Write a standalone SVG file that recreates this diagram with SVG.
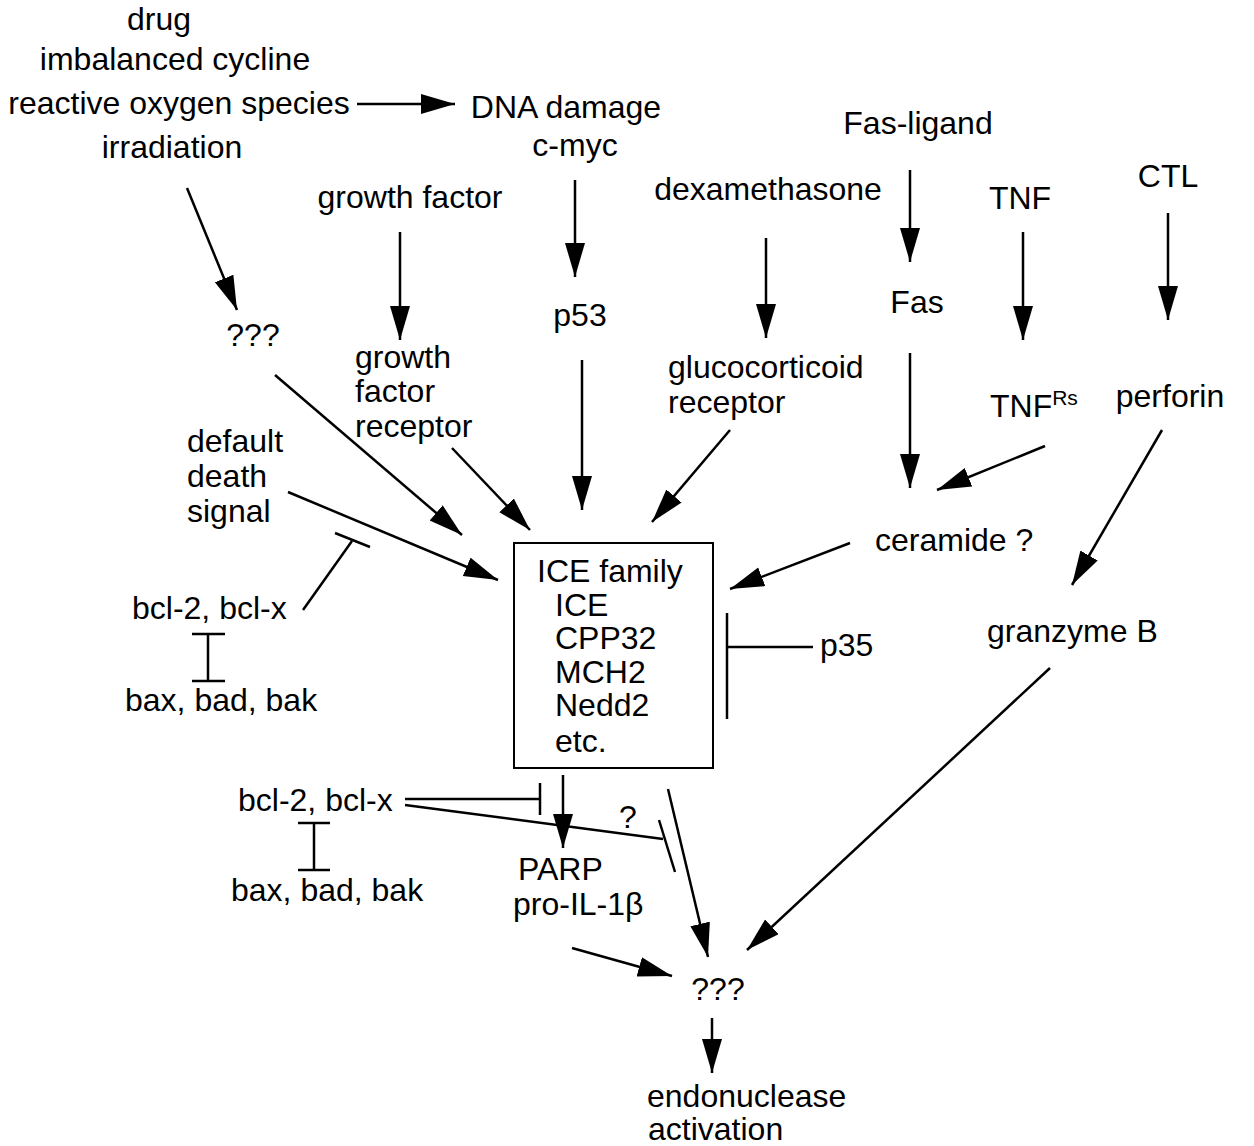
<svg xmlns="http://www.w3.org/2000/svg" width="1254" height="1146" viewBox="0 0 1254 1146">
<style>
text{font-family:"Liberation Sans",Arial,Helvetica,sans-serif;font-size:32px;fill:#000}
.c{text-anchor:middle}
.sup{font-size:21px}
.ln{stroke:#000;stroke-width:2.5;fill:none}
.ar{stroke:#000;stroke-width:2.5;fill:none;marker-end:url(#ah)}
.box{fill:none;stroke:#000;stroke-width:2}
</style>
<defs>
<marker id="ah" markerUnits="userSpaceOnUse" markerWidth="36" markerHeight="22" refX="34" refY="10" orient="auto">
<path d="M0,0 L34,10 L0,20 z" fill="#000"/>
</marker>
</defs>
<rect width="1254" height="1146" fill="#fff"/>
<g id="stimuli">
<text class="c" x="159" y="30">drug</text>
<text class="c" x="175" y="70">imbalanced cycline</text>
<text class="c" x="179" y="114">reactive oxygen species</text>
<text class="c" x="172" y="158">irradiation</text>
</g>
<g id="dna-damage"><text class="c" x="566" y="118">DNA damage</text><text class="c" x="575" y="156">c-myc</text></g>
<g id="fas-ligand"><text class="c" x="918" y="134">Fas-ligand</text></g>
<g id="growth-factor"><text class="c" x="410" y="208">growth factor</text></g>
<g id="dexamethasone"><text class="c" x="768" y="200">dexamethasone</text></g>
<g id="tnf"><text class="c" x="1020" y="209">TNF</text></g>
<g id="ctl"><text class="c" x="1168" y="187">CTL</text></g>
<g id="unknown1"><text class="c" x="253" y="346">???</text></g>
<g id="p53"><text class="c" x="580" y="326">p53</text></g>
<g id="fas"><text class="c" x="917" y="313">Fas</text></g>
<g id="gf-receptor"><text x="355" y="368">growth</text><text x="355" y="402">factor</text><text x="355" y="437">receptor</text></g>
<g id="gc-receptor"><text x="668" y="378">glucocorticoid</text><text x="668" y="413">receptor</text></g>
<g id="tnfrs"><text x="990" y="417">TNF<tspan class="sup" dy="-12">Rs</tspan></text></g>
<g id="perforin"><text class="c" x="1170" y="407">perforin</text></g>
<g id="default-death"><text x="187" y="452">default</text><text x="187" y="487">death</text><text x="187" y="522">signal</text></g>
<g id="ceramide"><text x="875" y="551">ceramide ?</text></g>
<g id="bcl2-a"><text x="132" y="619">bcl-2, bcl-x</text></g>
<g id="bax-a"><text x="125" y="711">bax, bad, bak</text></g>
<g id="ice-family">
<rect class="box" x="514" y="543" width="199" height="225"/>
<text x="537" y="582">ICE family</text>
<text x="555" y="616">ICE</text>
<text x="555" y="649">CPP32</text>
<text x="555" y="683">MCH2</text>
<text x="555" y="716">Nedd2</text>
<text x="555" y="752">etc.</text>
</g>
<g id="p35"><text x="820" y="656">p35</text></g>
<g id="granzyme"><text x="987" y="642">granzyme B</text></g>
<g id="bcl2-b"><text x="238" y="811">bcl-2, bcl-x</text></g>
<g id="bax-b"><text x="231" y="901">bax, bad, bak</text></g>
<g id="parp"><text x="518" y="880">PARP</text><text x="513" y="915">pro-IL-1β</text></g>
<g id="qmark"><text class="c" x="628" y="828">?</text></g>
<g id="unknown2"><text class="c" x="718" y="1000">???</text></g>
<g id="endonuclease"><text x="647" y="1107">endonuclease</text><text x="648" y="1140">activation</text></g>
<g id="connectors">
<line class="ar" x1="357" y1="104" x2="455" y2="104"/>
<line class="ar" x1="187" y1="188" x2="237" y2="310"/>
<line class="ar" x1="400" y1="232" x2="400" y2="340"/>
<line class="ar" x1="575" y1="180" x2="575" y2="277"/>
<line class="ar" x1="766" y1="238" x2="766" y2="338"/>
<line class="ar" x1="910" y1="170" x2="910" y2="262"/>
<line class="ar" x1="1023" y1="232" x2="1023" y2="340"/>
<line class="ar" x1="1168" y1="213" x2="1168" y2="320"/>
<line class="ar" x1="275" y1="375" x2="462" y2="535"/>
<line class="ar" x1="452" y1="448" x2="530" y2="530"/>
<line class="ar" x1="582" y1="360" x2="582" y2="510"/>
<line class="ar" x1="730" y1="430" x2="652" y2="522"/>
<line class="ar" x1="910" y1="353" x2="910" y2="488"/>
<line class="ar" x1="1045" y1="446" x2="937" y2="490"/>
<line class="ar" x1="1162" y1="430" x2="1072" y2="585"/>
<line class="ar" x1="288" y1="492" x2="498" y2="580"/>
<line class="ar" x1="850" y1="543" x2="730" y2="589"/>
<line class="ar" x1="563" y1="775" x2="563" y2="848"/>
<line class="ar" x1="668" y1="789" x2="708" y2="957"/>
<line class="ar" x1="1050" y1="668" x2="747" y2="950"/>
<line class="ar" x1="572" y1="948" x2="672" y2="976"/>
<line class="ar" x1="712" y1="1018" x2="712" y2="1073"/>
<line class="ln" x1="303" y1="610" x2="352" y2="541"/>
<line class="ln" x1="335" y1="533" x2="370" y2="547"/>
<line class="ln" x1="208" y1="634" x2="208" y2="681"/>
<line class="ln" x1="192" y1="634" x2="225" y2="634"/>
<line class="ln" x1="192" y1="681" x2="225" y2="681"/>
<line class="ln" x1="727" y1="647" x2="813" y2="647"/>
<line class="ln" x1="727" y1="613" x2="727" y2="719"/>
<line class="ln" x1="405" y1="799" x2="540" y2="799"/>
<line class="ln" x1="540" y1="783" x2="540" y2="815"/>
<line class="ln" x1="405" y1="805" x2="663" y2="839"/>
<line class="ln" x1="659" y1="820" x2="675" y2="872"/>
<line class="ln" x1="314" y1="823" x2="314" y2="870"/>
<line class="ln" x1="298" y1="823" x2="330" y2="823"/>
<line class="ln" x1="298" y1="870" x2="330" y2="870"/>
</g>
</svg>
